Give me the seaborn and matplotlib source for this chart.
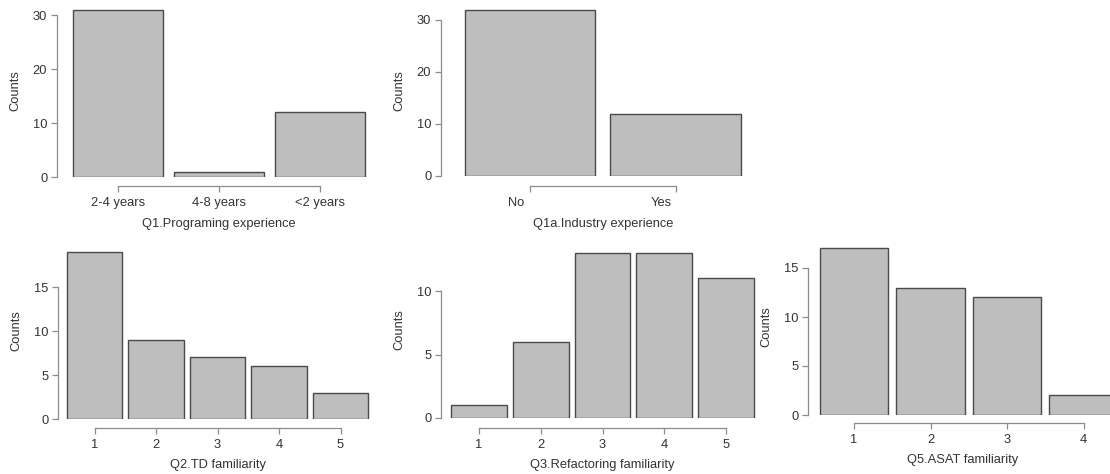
import matplotlib
matplotlib.use("Agg")
import matplotlib.pyplot as plt
import seaborn as sns
from matplotlib.transforms import ScaledTranslation

# Data
q1_labels = ["2-4 years", "4-8 years", "<2 years"]
q1_counts = [31, 1, 12]
q1a_labels = ["No", "Yes"]
q1a_counts = [32, 12]
q2_labels = ["1", "2", "3", "4", "5"]
q2_counts = [19, 9, 7, 6, 3]
q3_labels = ["1", "2", "3", "4", "5"]
q3_counts = [1, 6, 13, 13, 11]
q5_labels = ["1", "2", "3", "4"]
q5_counts = [17, 13, 12, 2]

sns.set_style("white")
plt.rcParams["font.family"] = ["Liberation Sans", "DejaVu Sans"]

W, H, DPI = 1110, 474, 100
fig = plt.figure(figsize=(W / DPI, H / DPI), dpi=DPI)
PT = 72 / DPI  # points per pixel

AXIS_COL = "#8c8c8c"
TEXT_COL = "#333333"
FS = 9.3


def panel(labels, counts, xlabel, yticks, c0, pitch, y0, unit, spine_x, axis_y, ytop, xpad=6):
    # place the axes so that category i sits at pixel c0 + i*pitch and count 0 at pixel y0
    xlo, xhi = -0.55, len(labels) - 0.45
    left = c0 + xlo * pitch
    right = c0 + xhi * pitch
    top = y0 - ytop * unit
    ax = fig.add_axes([left / W, 1 - y0 / H, (right - left) / W, (y0 - top) / H])
    sns.barplot(x=labels, y=counts, order=labels, color="#bebebe", saturation=1,
                edgecolor="#4a4a4a", linewidth=1.0, width=0.9, ax=ax)
    ax.set_xlim(xlo, xhi)
    ax.set_ylim(0, ytop)
    ax.set_yticks(yticks)
    for s in ["top", "right"]:
        ax.spines[s].set_visible(False)
    ax.spines["left"].set_bounds(yticks[0], yticks[-1])
    ax.spines["bottom"].set_bounds(0, len(labels) - 1)
    ax.spines["left"].set_position(("outward", (left - spine_x) * PT))
    ax.spines["bottom"].set_position(("outward", (axis_y - y0) * PT))
    for s in ["left", "bottom"]:
        ax.spines[s].set_color(AXIS_COL)
        ax.spines[s].set_linewidth(0.9)
    ax.tick_params(axis="both", direction="out", length=4, width=0.9, color=AXIS_COL,
                   labelcolor=TEXT_COL, labelsize=FS, pad=3, bottom=True, left=True)
    ax.tick_params(axis="x", pad=4)
    ax.set_xlabel(xlabel, fontsize=FS, color=TEXT_COL, labelpad=xpad)
    ax.set_ylabel("Counts", fontsize=FS, color=TEXT_COL, labelpad=8)
    ax.patch.set_alpha(0)
    return ax


panel(q1_labels, q1_counts, "Q1.Programing experience", [0, 10, 20, 30],
      118, 101, 177, 5.4, 57, 186, 32, xpad=6.5)
ax2 = panel(q1a_labels, q1a_counts, "Q1a.Industry experience", [0, 10, 20, 30],
            530, 145.5, 176, 5.2, 441, 186, 33, xpad=6.5)
for lab in ax2.get_xticklabels():
    lab.set_transform(lab.get_transform() + ScaledTranslation(-14 / DPI, 0, fig.dpi_scale_trans))
panel(q2_labels, q2_counts, "Q2.TD familiarity", [0, 5, 10, 15],
      94.5, 61.5, 419, 8.8, 58, 428, 20, xpad=5.5)
panel(q3_labels, q3_counts, "Q3.Refactoring familiarity", [0, 5, 10],
      479, 61.75, 418, 12.7, 441, 428, 14, xpad=5.5)
ax5 = panel(q5_labels, q5_counts, "Q5.ASAT familiarity", [0, 5, 10, 15],
            854, 76.5, 415, 9.8, 808, 423, 18, xpad=5.5)
ax5.xaxis.label.set_x(0.48)

fig.savefig("out.png", dpi=DPI)
